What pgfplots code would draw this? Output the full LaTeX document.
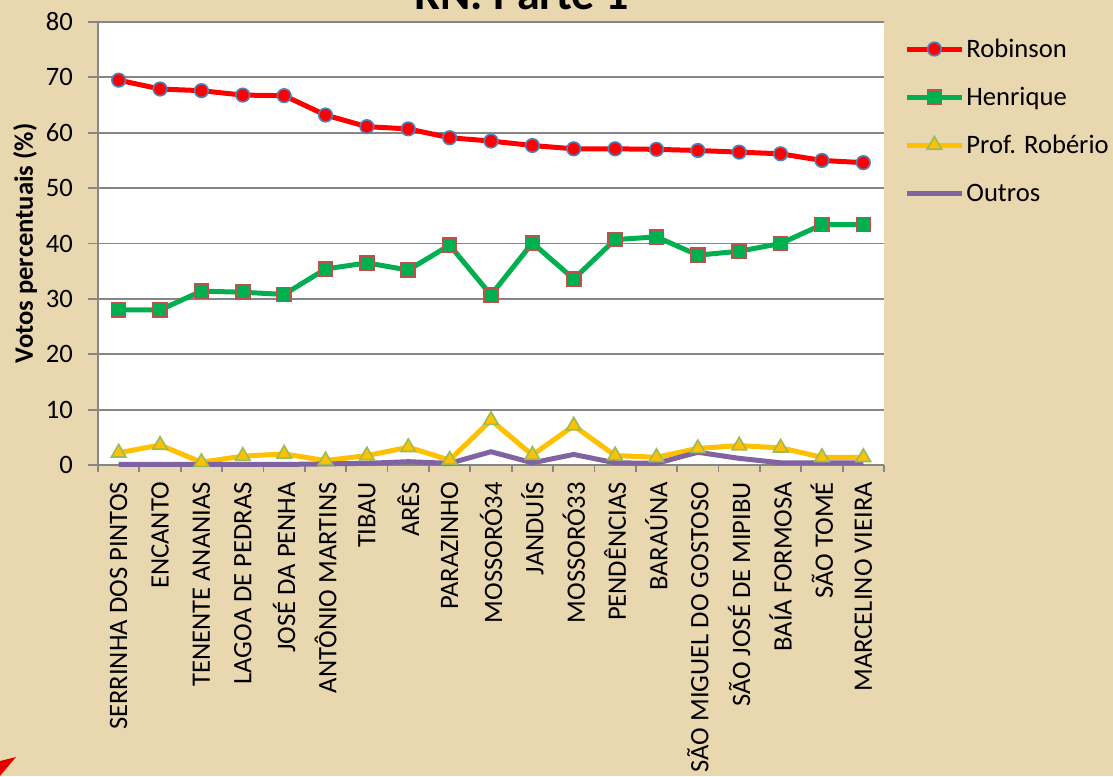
\documentclass[border=0pt]{standalone}
\usepackage{fontspec}
\setmainfont{Carlito}
\usepackage{pgfplots}
\usepackage{pgfplotstable}
\pgfplotsset{compat=1.18}

\definecolor{parch}{RGB}{233,215,175}
\definecolor{gridgray}{RGB}{134,134,134}
\definecolor{robred}{RGB}{255,0,0}
\definecolor{robblue}{RGB}{79,129,189}
\definecolor{hengreen}{RGB}{0,176,80}
\definecolor{henred}{RGB}{192,80,77}
\definecolor{profyel}{RGB}{255,192,0}
\definecolor{profolive}{RGB}{155,187,89}
\definecolor{outpurp}{RGB}{128,100,162}

% x = municipio index, values in %
\pgfplotstableread{
x  rob   hen   prof  out
0  69.5  28.0  2.2   0.1
1  67.9  28.0  3.6   0.1
2  67.6  31.4  0.5   0.1
3  66.8  31.2  1.6   0.1
4  66.7  30.8  2.0   0.1
5  63.2  35.4  0.8   0.2
6  61.1  36.5  1.7   0.3
7  60.7  35.2  3.2   0.6
8  59.1  39.7  0.9   0.3
9  58.5  30.7  8.1   2.4
10 57.7  40.1  1.8   0.4
11 57.1  33.6  7.1   1.9
12 57.1  40.7  1.7   0.4
13 57.0  41.2  1.4   0.3
14 56.8  37.9  3.0   2.3
15 56.5  38.6  3.5   1.2
16 56.2  40.0  3.1   0.4
17 55.0  43.4  1.4   0.4
18 54.6  43.4  1.4   0.4
}\votos

\begin{document}
\begin{tikzpicture}
\fill[parch] (-49pt,-155.5pt) rectangle (507.5pt,232.5pt);
\fill[red!90!black] (-49pt,-148pt) -- (-41pt,-146pt) -- (-49pt,-155.5pt) -- cycle;
\begin{axis}[
    scale only axis,
    width=393pt, height=221.5pt,
    xmin=-0.5, xmax=18.5,
    ymin=0, ymax=80,
    clip=false,
    axis x line*=bottom, axis y line*=left,
    axis line style={gridgray, line width=0.9pt},
    axis background/.style={fill=white},
    ytick={0,10,...,80},
    ymajorgrids,
    major grid style={gridgray, line width=0.9pt},
    xtick={0,...,18},
    xticklabels={SERRINHA DOS PINTOS, ENCANTO, TENENTE ANANIAS, LAGOA DE PEDRAS, JOSÉ DA PENHA, ANTÔNIO MARTINS, TIBAU, ARÊS, PARAZINHO, MOSSORÓ34, JANDUÍS, MOSSORÓ33, PENDÊNCIAS, BARAÚNA, SÃO MIGUEL DO GOSTOSO, SÃO JOSÉ DE MIPIBU, BAÍA FORMOSA, SÃO TOMÉ, MARCELINO VIEIRA},
    minor xtick={-0.5,0.5,...,18.5},
    major x tick style={draw=none},
    tick align=outside,
    major tick length=5pt, minor tick length=3.5pt,
    tick style={gridgray, line width=0.9pt},
    xticklabel style={rotate=90, anchor=east, font=\fontsize{13.3}{15}\selectfont},
    yticklabel style={font=\fontsize{13.3}{15}\selectfont},
    yticklabel shift=4pt,
    /pgf/number format/assume math mode=true,
    title={RN. Parte 1},
    title style={at={(0.539,1)}, anchor=base, yshift=0.5pt, font=\bfseries\fontsize{23}{26}\selectfont},
    ylabel={Votos percentuais (\%)},
    ylabel style={at={(axis description cs:-0.0929,0.5)}, anchor=center, font=\bfseries\fontsize{13.3}{15}\selectfont},
    legend style={at={(1,1)}, anchor=north west, xshift=10pt, yshift=-8.25pt,
        draw=none, fill=none, inner sep=0pt, row sep=11.5pt, column sep=1pt,
        nodes={inner sep=0pt, text height=9.5pt, text depth=3pt},
        font=\fontsize{13.3}{15}\selectfont},
    legend cell align=left,
    legend image code/.code={\draw[mark repeat=2, mark phase=2] plot coordinates {(0pt,1.2pt) (13.75pt,1.2pt) (27.5pt,1.2pt)};},
]
\addplot[robred, line width=2.5pt, mark=*, mark size=3.4pt,
    mark options={fill=robred, draw=robblue, line width=0.8pt}] table[x=x, y=rob] {\votos};
\addlegendentry{Robinson}
\addplot[hengreen, line width=2.5pt, mark=square*, mark size=3.5pt,
    mark options={fill=hengreen, draw=henred, line width=0.8pt}] table[x=x, y=hen] {\votos};
\addlegendentry{Henrique}
\addplot[profyel, line width=2.5pt, mark=triangle*, mark size=4.2pt,
    mark options={fill=profyel, draw=profolive, line width=0.8pt}] table[x=x, y=prof] {\votos};
\addlegendentry{Prof. Robério}
\addplot[outpurp, line width=2.5pt] table[x=x, y=out] {\votos};
\addlegendentry{Outros}
\end{axis}
\pgfresetboundingbox
\path[use as bounding box] (-49pt,-155.5pt) rectangle (507.5pt,232.5pt);
\end{tikzpicture}
\end{document}
